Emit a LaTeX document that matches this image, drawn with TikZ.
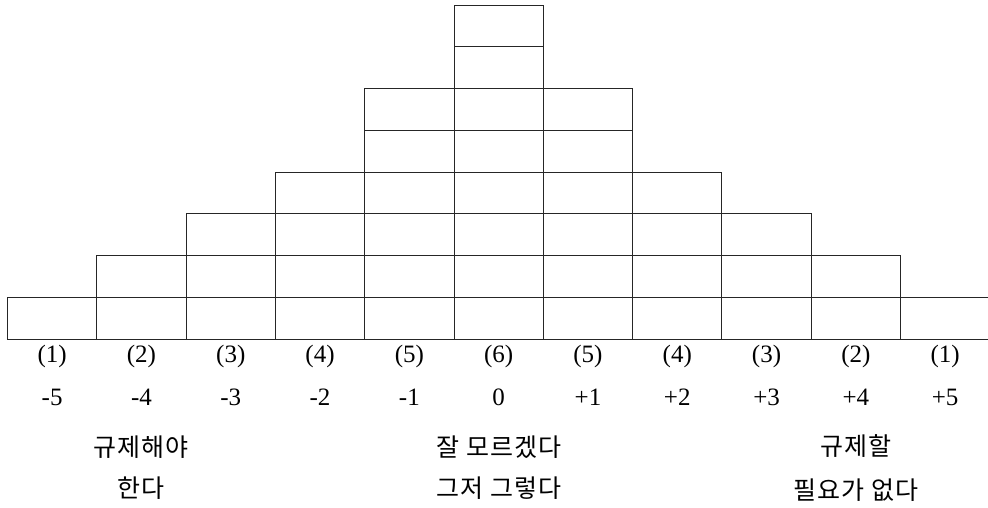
\documentclass[tikz,border=0pt]{standalone}
\usepackage{fontspec}
\setmainfont{Liberation Serif}
\newfontfamily\kr{Noto Sans CJK KR}[LetterSpace=4]
\tikzset{
  cell/.style={draw=black!85, line width=1pt},
  lbl/.style={inner sep=0pt, font=\fontsize{25}{27}\selectfont},
  krl/.style={inner sep=0pt, align=center, font=\kr\fontsize{25}{42}\selectfont},
}
\begin{document}
\begin{tikzpicture}[x=1pt,y=-1pt]
\useasboundingbox (0,0) rectangle (988,507);
\def\cw{89.3}
\def\rh{41.75}
\foreach \h [count=\i from 0] in {1,2,3,4,6,8,6,4,3,2} {
  \pgfmathtruncatemacro{\hm}{\h-1}
  \foreach \k in {0,...,\hm} {
    \draw[cell] ({7.5+\cw*\i},{339-\rh*\k}) rectangle ({7.5+\cw*(\i+1)},{339-\rh*(\k+1)});
  }
}
\draw[cell] (988,{339-\rh}) -- ({7.5+\cw*10},{339-\rh}) -- ({7.5+\cw*10},339) -- (988,339);
\foreach \n/\v [count=\i from 0] in {1/-5,2/-4,3/-3,4/-2,5/-1,6/0,5/+1,4/+2,3/+3,2/+4,1/+5} {
  \node[lbl] (p\i) at ({7.5+\cw*(\i+0.5)},356) {(\n)};
  \node[lbl] (v\i) at ({7.5+\cw*(\i+0.5)},397) {\v};
}
\node[krl] (a1) at (141,447) {규제해야};
\node[krl] (a2) at (141,488) {한다};
\node[krl] (b1) at (499,447) {잘 모르겠다};
\node[krl] (b2) at (499,488) {그저 그렇다};
\node[krl] (c1) at (856,446) {규제할};
\node[krl] (c2) at (856,490) {필요가 없다};
\end{tikzpicture}
\end{document}
